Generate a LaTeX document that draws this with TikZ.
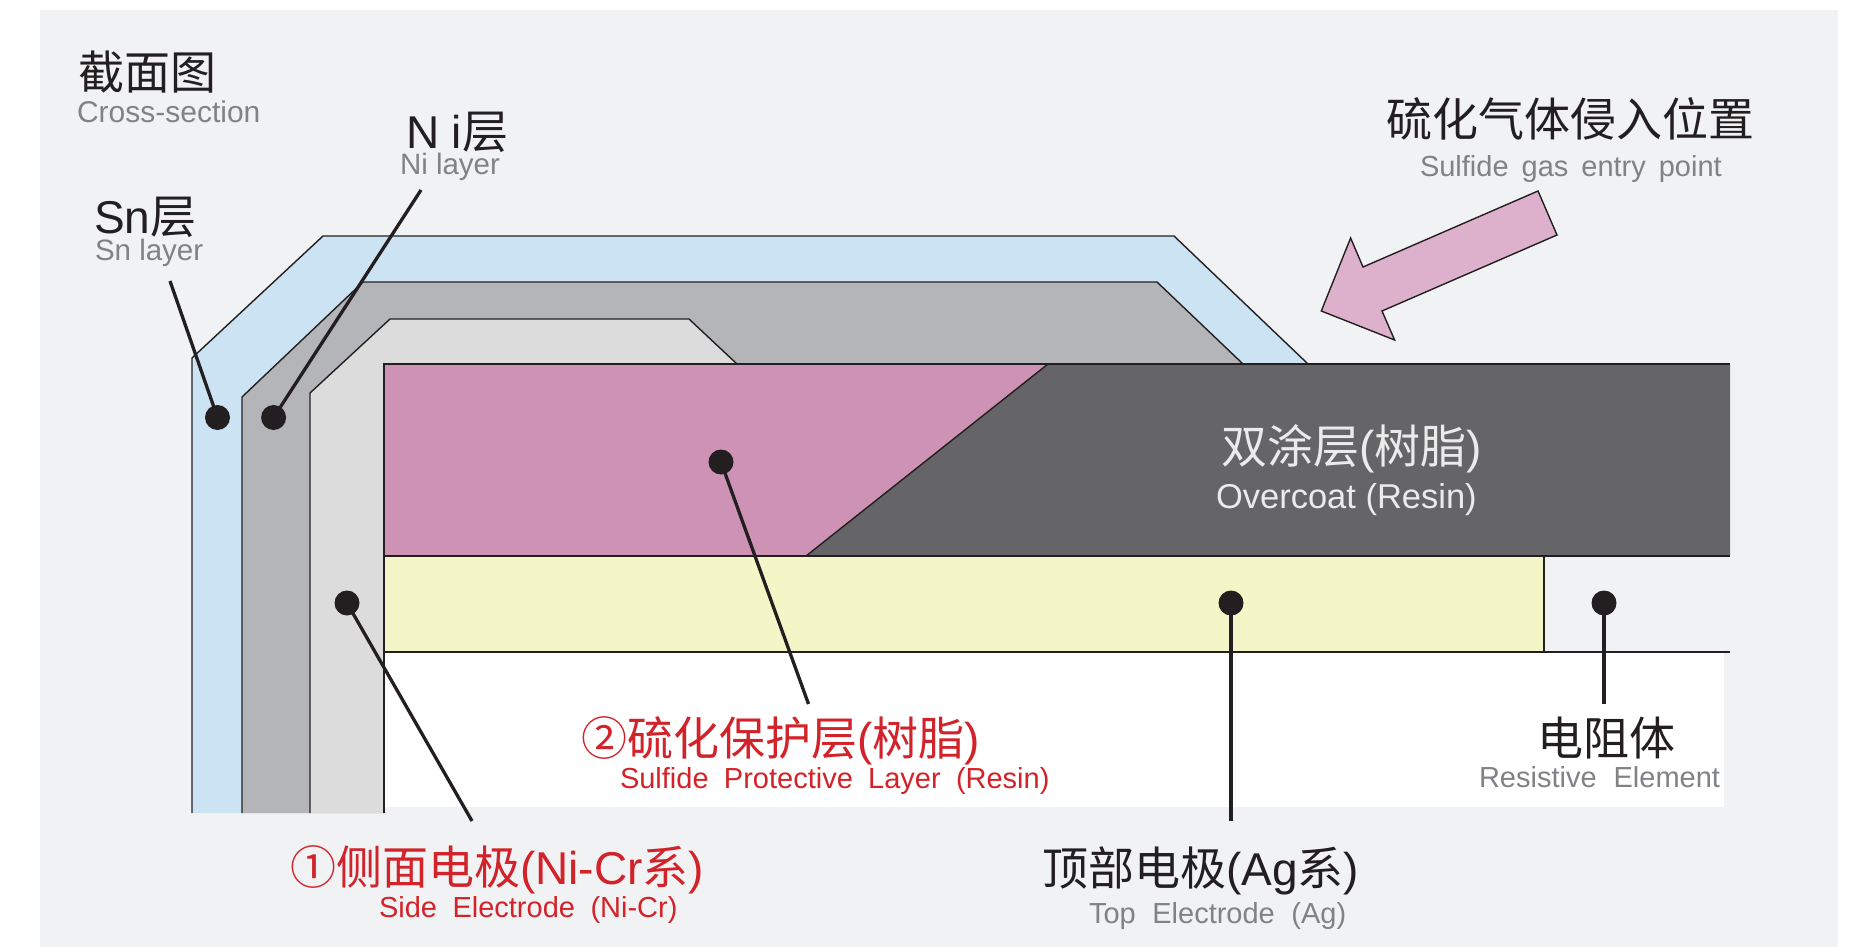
\documentclass[tikz,border=0pt]{standalone}
\usepackage{fontspec}
\setmainfont{Liberation Sans}
\newfontfamily\cjk{Noto Sans CJK SC}
\newcommand{\wsp}[1]{\hspace{#1pt}}
\definecolor{bgc}{HTML}{F1F2F4}
\definecolor{snc}{HTML}{CCE3F3}
\definecolor{nic}{HTML}{B4B5B8}
\definecolor{sidec}{HTML}{DCDCDD}
\definecolor{pinkc}{HTML}{CE93B4}
\definecolor{coatc}{HTML}{656567}
\definecolor{yelc}{HTML}{F5F6C8}
\definecolor{arrc}{HTML}{DDB1CC}
\definecolor{darkc}{HTML}{231F20}
\definecolor{grayc}{HTML}{808285}
\definecolor{redc}{HTML}{D2232A}
\tikzset{
  edge/.style={draw=darkc,line width=1.4pt,line join=miter},
  leader/.style={draw=darkc,line width=3.3pt},
  dot/.style={circle,fill=darkc,minimum size=25pt,inner sep=0pt},
  lab/.style={anchor=base west,inner sep=0pt,outer sep=0pt},
  zhbig/.style={lab,text=darkc,font=\fontsize{46}{50}\selectfont},
  zhred/.style={lab,text=redc,font=\fontsize{46}{50}\selectfont},
  engray/.style={lab,text=grayc,font=\fontsize{29}{34}\selectfont},
  enred/.style={lab,text=redc,font=\fontsize{29}{34}\selectfont},
}
\begin{document}
\begin{tikzpicture}[x=1pt,y=-1pt]
\useasboundingbox (0,0) rectangle (1856,947);
\fill[white] (0,0) rectangle (1856,947);
\fill[bgc] (39.5,10) rectangle (1838,947);
% white substrate
\fill[white] (384,652) rectangle (1724,807);
% layers
\fill[snc] (192,813) -- (192,358) -- (323,236) -- (1174,236) -- (1308,364) -- (384,364) -- (384,813) -- cycle;
\fill[nic] (242,813) -- (242,397) -- (363,282) -- (1157,282) -- (1243,364) -- (384,364) -- (384,813) -- cycle;
\fill[sidec] (310,813) -- (310,393) -- (390,319) -- (689,319) -- (737,364) -- (384,364) -- (384,813) -- cycle;
\draw[edge] (192,813) -- (192,358) -- (323,236) -- (1174,236) -- (1308,364);
\draw[edge] (242,813) -- (242,397) -- (363,282) -- (1157,282) -- (1243,364);
\draw[edge] (310,813) -- (310,393) -- (390,319) -- (689,319) -- (737,364);
% core
\fill[pinkc] (384,364) -- (1048,364) -- (806,556) -- (384,556) -- cycle;
\fill[coatc] (1048,364) -- (1730,364) -- (1730,556) -- (806,556) -- cycle;
\fill[yelc] (384,556) rectangle (1544,652);
\draw[edge] (1048,364) -- (806,556);
\draw[edge] (384,813) -- (384,364) -- (1730,364);
\draw[edge] (384,556) -- (1730,556);
\draw[edge] (1544,556) -- (1544,652);
\draw[edge] (384,652) -- (1730,652);
% entry arrow
\draw[fill=arrc,draw=darkc,line width=1.4pt] (1538,191) -- (1557,235) -- (1382,311) -- (1394.6,340) -- (1321.3,311) -- (1350.6,238) -- (1363,267) -- cycle;
% dots and leaders
\node[dot] (dSn) at (217.5,417.5) {};
\node[dot] (dNi) at (273.6,417.5) {};
\node[dot] (dSide) at (347,603) {};
\node[dot] (dProt) at (721,462) {};
\node[dot] (dTop) at (1231,603) {};
\node[dot] (dRes) at (1604,603) {};
\coordinate (cSn) at (170,281);
\coordinate (cNi) at (421,190);
\coordinate (cSide) at (472,821);
\coordinate (cProt) at (808.5,704);
\coordinate (cTop) at (1231,821);
\coordinate (cRes) at (1604,704);
\draw[leader] (dSn.center) -- (cSn);
\draw[leader] (dNi.center) -- (cNi);
\draw[leader] (dSide.center) -- (cSide);
\draw[leader] (dProt.center) -- (cProt);
\draw[leader] (dTop.center) -- (cTop);
\draw[leader] (dRes.center) -- (cRes);
% labels
\node[zhbig] (t1) at (78,90) {\cjk 截面图};
\node[engray,font=\fontsize{30}{34}\selectfont] (t1e) at (77,123) {Cross-section};
\node[zhbig] (t2) at (406,148.5) {N i{\cjk 层}};
\node[engray,font=\fontsize{29.5}{34}\selectfont] (t2e) at (400,175) {Ni layer};
\node[zhbig] (t3) at (94,233.5) {Sn{\cjk 层}};
\node[engray,font=\fontsize{29.5}{34}\selectfont] (t3e) at (95,260.5) {Sn layer};
\node[zhbig] (t4) at (1386,136.5) {\cjk 硫化气体侵入位置};
\node[engray] (t4e) at (1420,176.5) {Sulfide\wsp{13}gas\wsp{13}entry\wsp{13}point};
\node[zhbig,text=white!92!black] (t5) at (1221,463) {{\cjk 双涂层}({\cjk 树脂})};
\node[lab,text=white!92!black,font=\fontsize{34.5}{38}\selectfont] (t5e) at (1216,508) {Overcoat (Resin)};
\node[zhred] (t6) at (581,755.5) {{\cjk ②硫化保护层}({\cjk 树脂})};
\node[enred] (t6e) at (620,788) {Sulfide\wsp{15.3}Protective\wsp{15.3}Layer\wsp{15.3}(Resin)};
\node[zhred] (t7) at (290,884.5) {{\cjk ①侧面电极}(Ni-Cr{\cjk 系})};
\node[enred] (t7e) at (379,917) {Side\wsp{15.5}Electrode\wsp{15.5}(Ni-Cr)};
\node[zhbig] (t8) at (1042,885) {{\cjk 顶部电极}(Ag{\cjk 系})};
\node[engray] (t8e) at (1089,923) {Top\wsp{16.6}Electrode\wsp{16.6}(Ag)};
\node[zhbig] (t9) at (1537,755.5) {\cjk 电阻体};
\node[engray] (t9e) at (1479,787) {Resistive\wsp{17}Element};
\end{tikzpicture}
\end{document}
